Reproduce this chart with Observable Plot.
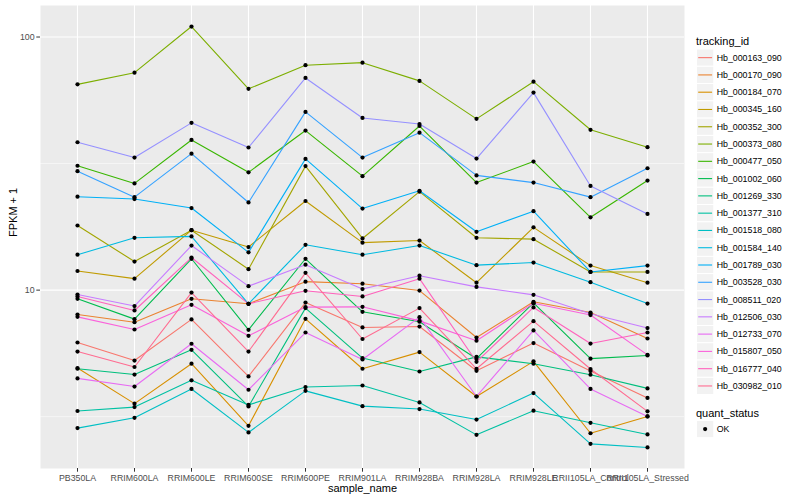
<!DOCTYPE html>
<html>
<head>
<meta charset="utf-8">
<script src="https://cdn.jsdelivr.net/npm/d3@7"></script>
<script src="https://cdn.jsdelivr.net/npm/@observablehq/plot@0.6"></script>
<style>
  html, body { margin: 0; padding: 0; background: white; }
  #wrap { position: relative; width: 800px; height: 500px; font-family: "Liberation Sans", Arial, Helvetica, sans-serif; }
  #legend { position: absolute; left: 690px; top: 0; }
</style>
</head>
<body>
<div id="wrap"><div id="chart"></div><svg id="legend" width="110" height="500"></svg></div>
<script>
// ---- data (FPKM + 1) ----
const samples = ["PB350LA","RRIM600LA","RRIM600LE","RRIM600SE","RRIM600PE","RRIM901LA","RRIM928BA","RRIM928LA","RRIM928LE","RRII105LA_Control","RRII105LA_Stressed"];
const trackingIds = ["Hb_000163_090","Hb_000170_090","Hb_000184_070","Hb_000345_160","Hb_000352_300","Hb_000373_080","Hb_000477_050","Hb_001002_060","Hb_001269_330","Hb_001377_310","Hb_001518_080","Hb_001584_140","Hb_001789_030","Hb_003528_030","Hb_008511_020","Hb_012506_030","Hb_012733_070","Hb_015807_050","Hb_016777_040","Hb_030982_010"];
const quantStatus = ["OK"];

const v000163_090 = [6.21, 5.27, 7.66, 4.56, 8.93, 7.12, 7.18, 4.80, 6.18, 4.79, 3.75];
const v000170_090 = [8.01, 7.47, 9.24, 8.83, 10.8, 10.6, 9.96, 6.50, 8.99, 8.16, 6.44];
const v000184_070 = [4.92, 3.56, 5.12, 2.91, 7.70, 4.89, 5.69, 3.80, 5.23, 2.72, 3.17];
const v000345_160 = [11.9, 11.1, 17.25, 14.8, 22.5, 15.4, 15.7, 10.7, 17.7, 12.5, 10.7];
const v000352_300 = [18.0, 12.97, 17.25, 12.1, 30.9, 16.0, 24.5, 16.1, 15.9, 11.8, 11.8];
const v000373_080 = [65.0, 72.3, 110, 62.4, 77.4, 79.2, 67.1, 47.5, 66.6, 43.0, 36.7];
const v000477_050 = [31.0, 26.4, 39.2, 29.2, 42.7, 28.2, 44.5, 26.6, 32.2, 19.4, 27.1];
const v001002_060 = [9.24, 7.68, 13.3, 6.97, 13.3, 8.21, 7.50, 5.36, 8.91, 5.36, 5.52];
const v001269_330 = [4.89, 4.64, 5.81, 3.47, 8.49, 5.39, 4.77, 5.45, 5.12, 4.63, 4.09];
const v001377_310 = [3.33, 3.45, 4.40, 3.52, 4.14, 4.20, 3.60, 2.68, 3.34, 2.99, 2.69];
const v001518_080 = [2.85, 3.13, 4.07, 2.74, 4.00, 3.48, 3.39, 3.08, 3.92, 2.47, 2.39];
const v001584_140 = [13.8, 16.1, 16.3, 8.83, 15.1, 13.8, 15.0, 12.55, 12.85, 10.75, 8.85];
const v001789_030 = [23.4, 22.9, 21.1, 14.1, 33.0, 21.0, 24.7, 17.0, 20.5, 11.8, 12.5];
const v003528_030 = [29.5, 23.3, 34.6, 22.2, 50.6, 33.4, 41.9, 28.4, 26.6, 23.3, 30.3];
const v008511_020 = [38.4, 33.4, 45.8, 36.6, 68.9, 47.9, 45.3, 33.1, 60.3, 25.8, 20.0];
const v012506_030 = [9.61, 8.65, 15.0, 10.37, 12.6, 10.1, 11.4, 10.3, 9.58, 8.06, 7.08];
const v012733_070 = [4.48, 4.16, 6.14, 4.04, 6.80, 5.32, 7.82, 3.80, 6.93, 4.07, 3.17];
const v015807_050 = [7.84, 6.99, 8.75, 6.60, 8.57, 8.59, 7.56, 6.31, 8.87, 7.97, 5.55];
const v016777_040 = [9.44, 8.31, 13.45, 8.83, 9.94, 9.44, 11.1, 5.21, 8.54, 6.15, 6.80];
const v030982_010 = [5.72, 4.97, 9.78, 5.72, 11.7, 6.41, 8.49, 4.89, 7.54, 4.88, 3.32];

const yTicks = [10, 100];

// ---- styles ----
const palette = ["#F8766D","#EA8331","#D89000","#C09B00","#A3A500","#7CAE00","#39B600","#00BB4E","#00BF7D","#00C1A3","#00BFC4","#00BAE0","#00B0F6","#35A2FF","#9590FF","#C77CFF","#E76BF3","#FA62DB","#FF62BC","#FF6C91"];
const FONT = "'Liberation Sans', Arial, Helvetica, sans-serif";

const seriesValues = [v000163_090, v000170_090, v000184_070, v000345_160, v000352_300, v000373_080, v000477_050, v001002_060, v001269_330, v001377_310, v001518_080, v001584_140, v001789_030, v003528_030, v008511_020, v012506_030, v012733_070, v015807_050, v016777_040, v030982_010];

const rows = [];
trackingIds.forEach((id, i) => {
  seriesValues[i].forEach((v, j) => rows.push({id, sample: samples[j], value: v, status: quantStatus[0]}));
});

// ggplot-like 5% expansion of the log range
const lmin = Math.log10(d3.min(rows, d => d.value));
const lmax = Math.log10(d3.max(rows, d => d.value));
const ex = (lmax - lmin) * 0.05;
const yDomain = [Math.pow(10, lmin - ex), Math.pow(10, lmax + ex)];
const yMinor = yTicks.map(t => t / Math.sqrt(10)).concat([yTicks[yTicks.length - 1] * Math.sqrt(10)]);

const chart = Plot.plot({
  width: 690,
  height: 500,
  marginLeft: 40,
  marginRight: 6,
  marginTop: 5,
  marginBottom: 32,
  style: {fontFamily: FONT, background: "white", overflow: "visible"},
  x: {type: "point", domain: samples, padding: 0.6, label: null},
  y: {type: "log", domain: yDomain, label: null},
  color: {domain: trackingIds, range: palette},
  marks: [
    Plot.frame({fill: "#EBEBEB", stroke: "none"}),
    Plot.gridY(yMinor, {stroke: "white", strokeOpacity: 1, strokeWidth: 0.55}),
    Plot.gridY(yTicks, {stroke: "white", strokeOpacity: 1, strokeWidth: 1.1}),
    Plot.gridX(samples, {stroke: "white", strokeOpacity: 1, strokeWidth: 1.1}),
    Plot.line(rows, {x: "sample", y: "value", z: "id", stroke: "id", strokeWidth: 1.1}),
    Plot.dot(rows, {x: "sample", y: "value", fill: "black", r: 2.1}),
    Plot.axisX(samples, {tickSize: 3.7, tickPadding: 2.2, fontSize: 8.8, stroke: "#333333", fill: "#4D4D4D", label: null}),
    Plot.axisY(yTicks, {tickSize: 3.7, tickPadding: 2.2, fontSize: 8.8, stroke: "#333333", fill: "#4D4D4D", label: null, tickFormat: d => String(d)}),
    Plot.text(["sample_name"], {frameAnchor: "bottom", dy: 20, fontSize: 11, fill: "black", lineAnchor: "middle"}),
    Plot.text(["FPKM + 1"], {frameAnchor: "left", dx: -27, rotate: -90, fontSize: 11, fill: "black"})
  ]
});
document.getElementById("chart").appendChild(chart);

// ---- legend ----
const lg = d3.select("#legend").style("font-family", FONT);
const keySize = 17.28, keyX = 6.5, firstKeyTop = 49;
lg.append("text").attr("x", 6).attr("y", 40.7).attr("dominant-baseline", "central")
  .attr("font-size", 11).text("tracking_id");
trackingIds.forEach((id, i) => {
  const top = firstKeyTop + i * keySize, cy = top + keySize / 2;
  lg.append("rect").attr("x", keyX).attr("y", top).attr("width", keySize).attr("height", keySize)
    .attr("fill", "#F2F2F2").attr("stroke", "white").attr("stroke-width", 1);
  lg.append("line").attr("x1", keyX + 1.7).attr("x2", keyX + keySize - 1.7).attr("y1", cy).attr("y2", cy)
    .attr("stroke", palette[i]).attr("stroke-width", 1.1);
  lg.append("text").attr("x", 26.7).attr("y", cy).attr("dominant-baseline", "central")
    .attr("font-size", 8.8).text(id);
});
lg.append("text").attr("x", 6).attr("y", 412.7).attr("dominant-baseline", "central")
  .attr("font-size", 11).text("quant_status");
quantStatus.forEach((s, i) => {
  const top = 420.4 + i * keySize, cy = top + keySize / 2;
  lg.append("rect").attr("x", keyX).attr("y", top).attr("width", keySize).attr("height", keySize)
    .attr("fill", "#F2F2F2").attr("stroke", "white").attr("stroke-width", 1);
  lg.append("circle").attr("cx", keyX + keySize / 2).attr("cy", cy).attr("r", 2.1).attr("fill", "black");
  lg.append("text").attr("x", 26.7).attr("y", cy).attr("dominant-baseline", "central")
    .attr("font-size", 8.8).text(s);
});
</script>
</body>
</html>
